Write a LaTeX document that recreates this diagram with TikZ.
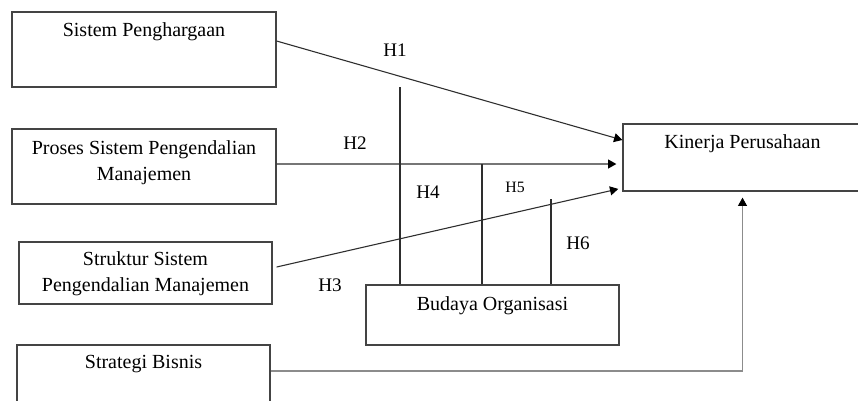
\documentclass[tikz,border=0pt]{standalone}
\usepackage{fontspec}
\setmainfont{Liberation Serif}
\usepackage{tikz}
\usetikzlibrary{arrows.meta, positioning}
\definecolor{garis}{HTML}{2E2E2E}
\definecolor{kotakline}{HTML}{444444}
\definecolor{garisabu}{HTML}{8C8C8C}

\begin{document}
\begin{tikzpicture}[
    x=0.6pt, y=-0.6pt,
    font=\fontsize{12}{15.6}\selectfont,
    variabel/.style={draw=kotakline, line width=0.75pt, fill=white, inner sep=0pt},
    flow/.style={-{Triangle[length=5pt, width=5.4pt, color=black]}, line width=0.65pt, color=garis},
    moder/.style={line width=0.65pt, color=garis},
    hlab/.style={font=\fontsize{11.5}{13}\selectfont, inner sep=0pt},
    hlabkecil/.style={font=\fontsize{9.5}{11}\selectfont, inner sep=0pt},
    judul/.style={anchor=center, align=center, inner sep=0pt}
]
\clip (0,0) rectangle (858,400);
\fill[white] (0,0) rectangle (858,400);

% --- Independent variables ---
\node[variabel, minimum width=158.4pt, minimum height=45pt,
    label={[judul, yshift=-12pt]north:Sistem Penghargaan}] (sp) at (144,49.5) {};
\node[variabel, minimum width=158.4pt, minimum height=45pt,
    label={[judul, yshift=-20.4pt]north:Proses Sistem Pengendalian\\Manajemen}] (pspm) at (144,166.5) {};
\node[variabel, minimum width=151.8pt, minimum height=37.2pt,
    label={[judul, yshift=-19.5pt]north:Struktur Sistem\\Pengendalian Manajemen}] (sspm) at (145.5,273) {};
\node[variabel, minimum width=151.8pt, minimum height=51pt,
    label={[judul, yshift=-12pt]north:Strategi Bisnis}] (sb) at (143.5,387.5) {};

% --- Moderating and dependent variables ---
\node[variabel, minimum width=151.8pt, minimum height=36pt,
    label={[judul, yshift=-12.6pt]north:Budaya Organisasi}] (bo) at (492.5,315) {};
\node[variabel, minimum width=143.4pt, minimum height=40.2pt,
    label={[judul, yshift=-12pt]north:Kinerja Perusahaan}] (kp) at (742.5,157.5) {};

% --- Direct effects ---
\draw[flow] ([yshift=5.1pt]sp.east) -- ([yshift=10.5pt]kp.west);
\draw[flow, shorten >=3.6pt] ([yshift=1.5pt]pspm.east) -- ([yshift=-3.9pt]kp.west);
\draw[flow, shorten >=2.5pt] ([xshift=2.4pt, yshift=3.6pt]sspm.east) -- ([yshift=-18.3pt]kp.west);
\draw[flow, color=garisabu, shorten >=3.6pt] ([yshift=9.9pt]sb.east) -| (kp.south);

% --- Moderation by Budaya Organisasi ---
\coordinate (m4) at (400,87);
\coordinate (m5) at (482,164);
\coordinate (m6) at (551,199);
\draw[moder] (m4 |- bo.north) -- (m4);
\draw[moder] (m5 |- bo.north) -- (m5);
\draw[moder] (m6 |- bo.north) -- (m6);

% --- Hypothesis labels ---
\node[hlab] (h1) at (395,50) {H1};
\node[hlab] (h2) at (355,143) {H2};
\node[hlab] (h3) at (330,285) {H3};
\node[hlab] (h4) at (428,192) {H4};
\node[hlabkecil] (h5) at (515,187) {H5};
\node[hlab] (h6) at (578,243) {H6};

\end{tikzpicture}
\end{document}
